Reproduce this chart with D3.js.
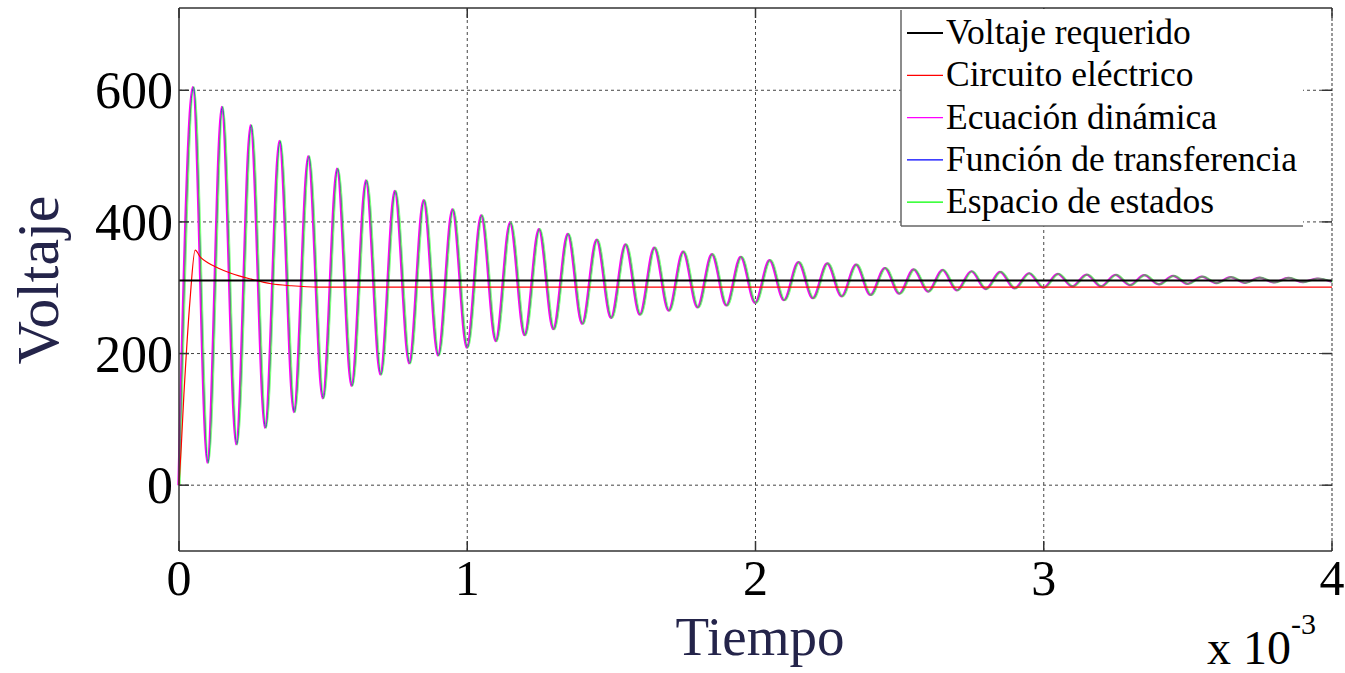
<!DOCTYPE html>
<meta charset="utf-8">

<head>
    <script src="https://cdn.jsdelivr.net/npm/d3@7"></script>
</head>

<body style="margin:0; background:#fff;">
    <div id="svg_div" style="width: 1345px; height: 673px;"></div>
</body>

<script>

    // time in ms (axis is labelled "x 10^-3")
    var osc_times = [0, 0.05, 0.10, 0.15, 0.20, 0.25, 0.30, 0.35, 0.40, 0.45, 0.50,
        0.55, 0.60, 0.65, 0.70, 0.75, 0.80, 0.85, 0.90, 0.95, 1.00,
        1.05, 1.10, 1.15, 1.20, 1.25, 1.30, 1.35, 1.40, 1.45, 1.50,
        1.55, 1.60, 1.65, 1.70, 1.75, 1.80, 1.85, 1.90, 1.95, 2.00,
        2.05, 2.10, 2.15, 2.20, 2.25, 2.30, 2.35, 2.40, 2.45, 2.50,
        2.55, 2.60, 2.65, 2.70, 2.75, 2.80, 2.85, 2.90, 2.95, 3.00,
        3.05, 3.10, 3.15, 3.20, 3.25, 3.30, 3.35, 3.40, 3.45, 3.50,
        3.55, 3.60, 3.65, 3.70, 3.75, 3.80, 3.85, 3.90, 3.95, 4.00];

    // peaks and troughs of the oscillating response (same for the three models)
    var osc_values = [0, 605, 34, 575, 62, 547, 87, 523, 111, 500, 132,
        481, 151, 463, 168, 447, 185, 433, 197, 419, 209,
        410, 219, 399, 228, 389, 237, 382, 245, 373, 254,
        366, 259, 361, 265, 355, 270, 351, 273, 347, 277,
        342, 281, 339, 284, 337, 287, 335, 289, 330, 291,
        328, 294, 327, 296, 325, 298, 324, 299, 322, 300,
        321, 302, 320, 302, 319.5, 304, 319, 305, 318, 306,
        317, 307, 316, 307.5, 315.5, 308, 315, 308.5, 314, 309];

    var circuit_times = [0, 0.008, 0.017, 0.021, 0.038, 0.056, 0.075, 0.10, 0.135, 0.18, 0.25, 0.32, 0.39, 0.48, 4.0];
    var circuit_values = [0, 60, 138, 168, 280, 357, 346, 338, 330, 322, 313, 306, 303, 301, 301];

    var required_times = [0, 4.0];
    var required_values = [311, 311];

    var x_ticks = [0, 1, 2, 3, 4];
    var y_ticks = [0, 200, 400, 600];

    var legend_names = ["Voltaje requerido", "Circuito eléctrico", "Ecuación dinámica", "Función de transferencia", "Espacio de estados"];
    var legend_colors = ["#000000", "#ff0000", "#ff00ff", "#0000ff", "#00ff00"];

    function draw_chart() {
        let width = 1345, height = 673;
        let margin = { top: 8, right: 13, bottom: 122, left: 179 };
        let svg = d3.select("#svg_div").append("svg")
            .attr("width", width)
            .attr("height", height)
            .style("font-family", "'Liberation Serif', 'Times New Roman', serif");

        let x = d3.scaleLinear().domain([0, 4]).range([margin.left, width - margin.right]);
        let y = d3.scaleLinear().domain([-100, 725]).range([height - margin.bottom, margin.top]);

        // grid
        let grid = svg.append("g").attr("stroke", "#444").attr("stroke-width", 1).attr("stroke-dasharray", "3,3");
        grid.selectAll(".gx").data(x_ticks.slice(1, -1)).enter().append("line")
            .attr("x1", d => x(d)).attr("x2", d => x(d))
            .attr("y1", y.range()[0]).attr("y2", y.range()[1]);
        grid.selectAll(".gy").data(y_ticks).enter().append("line")
            .attr("x1", x.range()[0]).attr("x2", x.range()[1])
            .attr("y1", d => y(d)).attr("y2", d => y(d));

        let plot = svg.append("g");

        function line_of(times, values) {
            return d3.line()
                .x((d, i) => x(times[i]))
                .y(d => y(d))
                .curve(d3.curveMonotoneX)(values);
        }

        // three overlapping model curves (blue hidden under the other two)
        plot.append("path").attr("d", line_of(osc_times, osc_values))
            .attr("fill", "none").attr("stroke", "#0000ff").attr("stroke-width", 1);
        plot.append("path").attr("d", line_of(osc_times, osc_values))
            .attr("transform", "translate(-0.6,0)")
            .attr("fill", "none").attr("stroke", "#ff00ff").attr("stroke-width", 2.2);
        plot.append("path").attr("d", line_of(osc_times, osc_values))
            .attr("transform", "translate(0.6,0)")
            .attr("fill", "none").attr("stroke", "#00ff00").attr("stroke-opacity", 0.5).attr("stroke-width", 2.2);

        plot.append("path").attr("d", line_of(circuit_times, circuit_values))
            .attr("fill", "none").attr("stroke", "#ff0000").attr("stroke-width", 1.2);

        plot.append("path").attr("d", d3.line().x((d, i) => x(required_times[i])).y(d => y(d))(required_values))
            .attr("fill", "none").attr("stroke", "#000").attr("stroke-width", 2);

        // axes box and inward ticks
        let x0 = x.range()[0], x1 = x.range()[1], y0 = y.range()[0], y1 = y.range()[1];
        let box = svg.append("g").attr("stroke", "#333").attr("stroke-width", 1.5);
        box.append("line").attr("x1", x0).attr("x2", x1).attr("y1", y1).attr("y2", y1);
        box.append("line").attr("x1", x0).attr("x2", x1).attr("y1", y0).attr("y2", y0);
        box.append("line").attr("x1", x0).attr("x2", x0).attr("y1", y0).attr("y2", y1);
        box.append("line").attr("x1", x1).attr("x2", x1).attr("y1", y0).attr("y2", y1).attr("stroke-dasharray", "3,2").attr("stroke-width", 1);

        let tick_len = 10;
        y_ticks.forEach(d => {
            box.append("line").attr("x1", x0).attr("x2", x0 + tick_len).attr("y1", y(d)).attr("y2", y(d));
            box.append("line").attr("x1", x1).attr("x2", x1 - tick_len).attr("y1", y(d)).attr("y2", y(d));
        });
        x_ticks.forEach(d => {
            box.append("line").attr("x1", x(d)).attr("x2", x(d)).attr("y1", y0).attr("y2", y0 - tick_len);
            box.append("line").attr("x1", x(d)).attr("x2", x(d)).attr("y1", y1).attr("y2", y1 + tick_len);
        });

        // tick labels
        svg.selectAll(".ylab").data(y_ticks).enter().append("text")
            .attr("x", x0 - 6).attr("y", d => y(d) + 18)
            .attr("text-anchor", "end").attr("font-size", 52).attr("fill", "#000")
            .text(d => d);
        svg.selectAll(".xlab").data(x_ticks).enter().append("text")
            .attr("x", d => x(d)).attr("y", 595)
            .attr("text-anchor", "middle").attr("font-size", 50).attr("fill", "#000")
            .text(d => d);

        // axis titles
        svg.append("text")
            .attr("transform", "translate(58,280) rotate(-90)")
            .attr("text-anchor", "middle").attr("font-size", 60).attr("fill", "#24244a")
            .text("Voltaje");
        svg.append("text")
            .attr("x", 760).attr("y", 655)
            .attr("text-anchor", "middle").attr("font-size", 55).attr("fill", "#24244a")
            .text("Tiempo");

        let expo = svg.append("text").attr("x", 1207).attr("y", 664).attr("font-size", 48).attr("fill", "#000");
        expo.append("tspan").text("x 10");
        expo.append("tspan").attr("font-size", 30).attr("dy", -30).text("-3");

        // legend
        let lg = svg.append("g");
        let lx = 901, ly = 8, lw = 402, lh = 218;
        lg.append("rect").attr("x", lx).attr("y", ly + 1).attr("width", lw).attr("height", lh - 1).attr("fill", "#fff");
        lg.append("line").attr("x1", lx).attr("x2", lx).attr("y1", ly + 2).attr("y2", ly + lh).attr("stroke", "#666").attr("stroke-width", 1.5);
        lg.append("line").attr("x1", lx).attr("x2", lx + lw).attr("y1", ly + lh).attr("y2", ly + lh).attr("stroke", "#666").attr("stroke-width", 1.5);

        legend_names.forEach((name, i) => {
            let base = 44 + i * 42.3;
            lg.append("line")
                .attr("x1", 907).attr("x2", 943)
                .attr("y1", base - 11).attr("y2", base - 11)
                .attr("stroke", legend_colors[i]).attr("stroke-width", i == 0 ? 2 : 1.3);
            lg.append("text")
                .attr("x", 946).attr("y", base)
                .attr("font-size", 35.5).attr("fill", "#000")
                .text(name);
        });
    }

    draw_chart();

</script>
